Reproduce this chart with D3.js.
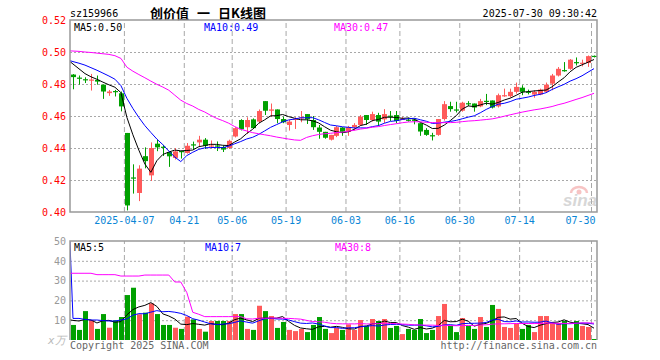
<!DOCTYPE html>
<html><head><meta charset="utf-8">
<script src="https://cdn.jsdelivr.net/npm/d3@7"></script>
<style>body{margin:0;background:#fff}svg{display:block}</style>
</head><body>
<script>
const dates = ["03-24","03-25","03-26","03-27","03-28","03-31","04-01","04-02","04-03","04-07",
"04-08","04-09","04-10","04-11","04-14","04-15","04-16","04-17","04-18","04-21",
"04-22","04-23","04-24","04-25","04-28","04-29","04-30","05-06","05-07","05-08",
"05-09","05-12","05-13","05-14","05-15","05-16","05-19","05-20","05-21","05-22",
"05-23","05-26","05-27","05-28","05-29","05-30","06-03","06-04","06-05","06-06",
"06-09","06-10","06-11","06-12","06-13","06-16","06-17","06-18","06-19","06-20",
"06-23","06-24","06-25","06-26","06-27","06-30","07-01","07-02","07-03","07-04",
"07-07","07-08","07-09","07-10","07-11","07-14","07-15","07-16","07-17","07-18",
"07-21","07-22","07-23","07-24","07-25","07-28","07-29","07-30"];
const open = [0.4859,0.4840,0.4830,0.4822,0.4826,0.4796,0.4743,0.4756,0.4742,0.4494,
0.4216,0.4119,0.4349,0.4229,0.4427,0.4408,0.4375,0.4338,0.4381,0.4369,
0.4423,0.4435,0.4452,0.4412,0.4416,0.4406,0.4400,0.4472,0.4575,0.4530,
0.4579,0.4565,0.4693,0.4633,0.4641,0.4581,0.4544,0.4579,0.4588,0.4612,
0.4575,0.4528,0.4501,0.4452,0.4476,0.4528,0.4501,0.4530,0.4544,0.4606,
0.4575,0.4606,0.4579,0.4602,0.4606,0.4579,0.4577,0.4577,0.4555,0.4513,
0.4480,0.4482,0.4581,0.4662,0.4641,0.4633,0.4680,0.4678,0.4660,0.4695,
0.4697,0.4660,0.4728,0.4724,0.4751,0.4777,0.4752,0.4734,0.4734,0.4751,
0.4802,0.4853,0.4887,0.4895,0.4937,0.4929,0.4931,0.4976];
const close = [0.4843,0.4836,0.4826,0.4828,0.4815,0.4753,0.4753,0.4750,0.4660,0.4041,
0.4210,0.4271,0.4318,0.4400,0.4404,0.4404,0.4348,0.4379,0.4377,0.4414,
0.4419,0.4452,0.4414,0.4416,0.4412,0.4390,0.4445,0.4524,0.4517,0.4575,
0.4524,0.4631,0.4633,0.4641,0.4581,0.4561,0.4565,0.4583,0.4592,0.4579,
0.4530,0.4501,0.4464,0.4482,0.4530,0.4501,0.4530,0.4544,0.4596,0.4575,
0.4612,0.4565,0.4612,0.4598,0.4569,0.4583,0.4575,0.4573,0.4503,0.4482,
0.4476,0.4581,0.4674,0.4643,0.4637,0.4683,0.4678,0.4653,0.4693,0.4693,
0.4653,0.4730,0.4730,0.4751,0.4782,0.4751,0.4748,0.4751,0.4765,0.4796,
0.4853,0.4895,0.4885,0.4952,0.4935,0.4933,0.4974,0.4972];
const high = [0.4862,0.4853,0.4842,0.4863,0.4853,0.4796,0.4763,0.4763,0.4753,0.4494,
0.4298,0.4292,0.4404,0.4435,0.4452,0.4420,0.4379,0.4400,0.4381,0.4431,
0.4440,0.4476,0.4462,0.4447,0.4441,0.4414,0.4452,0.4530,0.4580,0.4592,
0.4585,0.4641,0.4693,0.4678,0.4641,0.4596,0.4575,0.4592,0.4631,0.4612,
0.4600,0.4544,0.4501,0.4482,0.4538,0.4530,0.4538,0.4555,0.4606,0.4606,
0.4627,0.4620,0.4643,0.4631,0.4631,0.4594,0.4590,0.4585,0.4555,0.4524,
0.4495,0.4581,0.4693,0.4689,0.4689,0.4689,0.4693,0.4678,0.4707,0.4738,
0.4697,0.4740,0.4771,0.4771,0.4809,0.4792,0.4765,0.4761,0.4771,0.4809,
0.4863,0.4906,0.4937,0.4956,0.4966,0.4952,0.4978,0.4978];
const low = [0.4767,0.4796,0.4806,0.4759,0.4796,0.4707,0.4726,0.4722,0.4629,0.4010,
0.4115,0.4068,0.4273,0.4194,0.4380,0.4350,0.4282,0.4328,0.4334,0.4365,
0.4390,0.4410,0.4394,0.4400,0.4381,0.4375,0.4394,0.4466,0.4510,0.4489,
0.4520,0.4555,0.4606,0.4596,0.4555,0.4555,0.4509,0.4519,0.4561,0.4550,
0.4513,0.4458,0.4458,0.4447,0.4468,0.4476,0.4476,0.4509,0.4538,0.4544,
0.4565,0.4538,0.4555,0.4569,0.4555,0.4575,0.4565,0.4548,0.4476,0.4476,
0.4447,0.4476,0.4571,0.4627,0.4622,0.4627,0.4662,0.4627,0.4655,0.4668,
0.4647,0.4653,0.4720,0.4716,0.4740,0.4730,0.4735,0.4714,0.4730,0.4745,
0.4761,0.4847,0.4877,0.4889,0.4916,0.4910,0.4907,0.4966];
const volume = [7.6,5.1,14.6,10.1,5.6,13.1,6.2,9.9,11.6,22.7,
26.4,13.0,13.8,18.5,13.1,7.6,7.6,6.2,5.6,11.8,
10.4,5.6,4.2,9.6,9.6,9.6,9.6,13.1,13.1,5.6,
5.1,17.3,14.6,12.1,6.1,9.1,5.1,4.5,5.6,4.0,
7.6,11.6,5.6,3.5,6.1,5.1,7.9,5.1,10.1,7.1,
10.6,9.6,10.6,6.1,7.1,3.0,5.6,5.1,10.6,3.5,
5.1,12.1,18.2,7.1,4.0,11.1,7.1,5.6,11.6,6.6,
17.7,15.7,6.6,6.1,8.1,5.6,7.6,4.0,12.1,12.1,
8.6,8.6,9.6,6.1,9.6,7.1,6.6,0.5];
// moving-average values before enough visible days exist (index -1 .. n-2)
const ma5Head = [0.4955,0.4925,0.4895,0.4865,0.4845];
const ma10Head = [0.4952,0.4940,0.4930,0.4918,0.4902,0.4886,0.4868,0.4850,0.4830,0.4790];
const ma30Head = [0.5008,0.5006,0.5004,0.5000,0.4997,0.4993,0.4989,0.4985,0.4977,0.4960,0.4905,
0.4880,0.4859,0.4839,0.4818,0.4798,0.4781,0.4761,0.4730,0.4699,0.4678,
0.4662,0.4641,0.4625,0.4604,0.4585,0.4571,0.4555,0.4534,0.4517];
const vma5Head = [10.5,9.9,9.6,10.4,10.1];
const vma10Head = [87,10.9,10.9,10.4,10.1,10.1,9.8,9.6,9.6,10.1];
const vma30Head = [33.7,33.7,33.7,33.7,33.7,33.0,33.0,33.0,33.0,32.3,32.3,32.3,32.3,
32.8,32.8,32.8,32.8,32.8,29.3,29.3,24,14,13,11.8,11.8,11.8,11.8,11.8,11.8,11.8];
const tickIdx = [9,19,27,36,46,55,65,75,87];
const tickLabels = ["2025-04-07","04-21","05-06","05-19","06-03","06-16","06-30","07-14","07-30"];
const priceTicks = [0.40,0.42,0.44,0.46,0.48,0.50,0.52];
const volTicks = [10,20,30,40,50];
const priceLegend = ["MA5:0.50","MA10:0.49","MA30:0.47"];
const volLegend = ["MA5:5","MA10:7","MA30:8"];
const titleParts = ["创价值","一","日K线图"];
const maColors = ["#000000","#0000ff","#ff00ff"];

const W=660,H=360,L=70,R=597,PT=20,PB=212,VT=241,VB=340;
const UP="#ff5a5a", DOWN="#00a000", GRID="#a8a8a8";
const mono="'DejaVu Sans Mono', monospace";
const FS=10;
const n = close.length;
const svg = d3.select("body").append("svg").attr("width",W).attr("height",H)
  .style("font-family",mono);
const xs = d3.scaleLinear().domain([0,n]).range([L,R]);
const cx = i => xs(i+0.5);
const y = d3.scaleLinear().domain([0.40,0.52]).range([PB,PT]);
const yv = d3.scaleLinear().domain([0,50]).range([VB,VT]);

function movingAvg(vals, k, head){
  const out=[];
  for(let i=-1;i<vals.length;i++){
    out.push({i, v: i < k-1 ? head[i+1] : d3.mean(vals.slice(i-k+1,i+1))});
  }
  return out;
}

const defs = svg.append("defs");
defs.append("clipPath").attr("id","cp").append("rect").attr("x",L).attr("y",PT).attr("width",R-L).attr("height",PB-PT);
defs.append("clipPath").attr("id","cv").append("rect").attr("x",L).attr("y",VT).attr("width",R-L).attr("height",VB-VT);

// header
svg.append("text").attr("x",70).attr("y",17).attr("font-size",FS).attr("fill","#000").text("sz159966");
const tt = svg.append("text").attr("y",18).attr("font-size",13).attr("fill","#000")
  .style("font-family","'Noto Sans CJK SC', sans-serif").attr("font-weight","bold");
[150,197,218].forEach((px,j)=>tt.append("tspan").attr("x",px).text(titleParts[j]));
svg.append("text").attr("x",R).attr("y",17).attr("text-anchor","end").attr("font-size",FS).attr("fill","#000").text("2025-07-30 09:30:42");

// price grid
svg.append("g").attr("transform",`translate(${L},0)`)
  .call(d3.axisLeft(y).tickValues(priceTicks.slice(1,-1)).tickSize(-(R-L)).tickFormat(""))
  .call(g=>g.select(".domain").remove())
  .call(g=>g.selectAll("line").attr("stroke",GRID).attr("stroke-dasharray","2,2"));
svg.append("g").attr("transform",`translate(0,${PB})`)
  .call(d3.axisBottom(xs).tickValues(tickIdx).tickSize(-(PB-PT)).tickFormat(""))
  .call(g=>g.select(".domain").remove())
  .call(g=>g.selectAll("line").attr("stroke",GRID).attr("stroke-dasharray","5,3"));
// price labels
svg.append("g").attr("transform",`translate(${L},0)`)
  .call(d3.axisLeft(y).tickValues(priceTicks).tickSize(0).tickPadding(4).tickFormat(d3.format(".2f")))
  .call(g=>g.select(".domain").remove())
  .call(g=>g.selectAll("text").attr("fill","#ff0000").attr("font-size",FS).attr("font-family",mono));
// date labels
const xa = svg.append("g").attr("transform",`translate(0,${PB})`)
  .call(d3.axisBottom(xs).tickValues(tickIdx).tickSize(0).tickPadding(5).tickFormat((d,i)=>tickLabels[i]))
  .call(g=>g.select(".domain").remove())
  .call(g=>g.selectAll("text").attr("fill","#0a86d6").attr("font-size",FS).attr("font-family",mono));
xa.selectAll(".tick").filter((d,i,a)=>i===a.length-1).select("text")
  .attr("text-anchor","end").attr("x", R-2-xs(tickIdx[tickIdx.length-1]));

// sina watermark
const wm = svg.append("g").attr("opacity",0.5);
wm.append("path").attr("d","M571,193 a8,6 0 1,1 16,0").attr("fill","none").attr("stroke","#f08a8a").attr("stroke-width",2.5);
wm.append("circle").attr("cx",579).attr("cy",192).attr("r",2.5).attr("fill","#f08a8a");
wm.append("text").attr("x",563).attr("y",206).attr("font-size",17).attr("font-style","italic").attr("font-weight","bold")
  .attr("fill","#b0b0b0").style("font-family","'Liberation Sans', sans-serif").text("sina");

// candles
const cg = svg.append("g").attr("clip-path","url(#cp)");
const idx = d3.range(n);
cg.selectAll("line.w").data(idx).join("line")
  .attr("x1",i=>Math.round(cx(i))+0.5).attr("x2",i=>Math.round(cx(i))+0.5)
  .attr("y1",i=>y(high[i])).attr("y2",i=>y(low[i]))
  .attr("stroke",i=>close[i]>=open[i]?UP:DOWN).attr("stroke-width",1);
cg.selectAll("rect.b").data(idx).join("rect")
  .attr("x",i=>Math.round(cx(i))-2).attr("width",5)
  .attr("y",i=>y(Math.max(open[i],close[i])))
  .attr("height",i=>Math.max(1.2,Math.abs(y(open[i])-y(close[i]))))
  .attr("fill",i=>close[i]>=open[i]?UP:DOWN);

// price MAs
const line = d3.line().x(d=>cx(d.i)).y(d=>y(d.v));
[[5,ma5Head],[10,ma10Head],[30,ma30Head]].forEach(([k,h],j)=>{
  cg.append("path").datum(movingAvg(close,k,h)).attr("d",line)
    .attr("fill","none").attr("stroke",maColors[j]).attr("stroke-width",1);
});

// price border
svg.append("path").attr("d",`M${L},${PT}H${R}V${PB}H${L}Z`).attr("fill","none").attr("stroke","#999").attr("stroke-width",1.5);

// legend
const legX=[74,204,334];
priceLegend.forEach((t,j)=>svg.append("text").attr("x",legX[j]).attr("y",31).attr("font-size",FS).attr("fill",maColors[j]).text(t));

// volume grid
svg.append("g").attr("transform",`translate(${L},0)`)
  .call(d3.axisLeft(yv).tickValues(volTicks.slice(0,-1)).tickSize(-(R-L)).tickFormat(""))
  .call(g=>g.select(".domain").remove())
  .call(g=>g.selectAll("line").attr("stroke",GRID).attr("stroke-dasharray","2,2"));
svg.append("g").attr("transform",`translate(0,${VB})`)
  .call(d3.axisBottom(xs).tickValues(tickIdx).tickSize(-(VB-VT)).tickFormat(""))
  .call(g=>g.select(".domain").remove())
  .call(g=>g.selectAll("line").attr("stroke",GRID).attr("stroke-dasharray","5,3"));
svg.append("g").attr("transform",`translate(${L},0)`)
  .call(d3.axisLeft(yv).tickValues(volTicks).tickSize(0).tickPadding(4))
  .call(g=>g.select(".domain").remove())
  .call(g=>g.selectAll("text").attr("fill","#999").attr("font-size",FS).attr("font-family",mono));
svg.append("text").attr("x",48).attr("y",344).attr("font-size",11).attr("font-style","italic").attr("fill","#bbb").text("x万");

// volume bars
const vg = svg.append("g").attr("clip-path","url(#cv)");
vg.selectAll("rect").data(idx).join("rect")
  .attr("x",i=>Math.round(cx(i))-2).attr("width",5)
  .attr("y",i=>yv(volume[i])).attr("height",i=>VB-yv(volume[i]))
  .attr("fill",i=>close[i]>=open[i]?UP:DOWN);
const vline = d3.line().x(d=>cx(d.i)).y(d=>yv(d.v));
[[5,vma5Head],[10,vma10Head],[30,vma30Head]].forEach(([k,h],j)=>{
  vg.append("path").datum(movingAvg(volume,k,h)).attr("d",vline)
    .attr("fill","none").attr("stroke",maColors[j]).attr("stroke-width",1);
});
svg.append("path").attr("d",`M${L},${VB}V${VT}H${R}V${VB}`).attr("fill","none").attr("stroke","#999").attr("stroke-width",1.5);
volLegend.forEach((t,j)=>svg.append("text").attr("x",[74,205,335][j]).attr("y",251).attr("font-size",FS).attr("fill",maColors[j]).text(t));

// footer
svg.append("text").attr("x",70).attr("y",349).attr("font-size",FS).attr("fill","#666").text("Copyright 2025 SINA.COM");
svg.append("text").attr("x",R).attr("y",349).attr("text-anchor","end").attr("font-size",FS).attr("fill","#666").text("http://finance.sina.com.cn");
</script>
</body></html>
